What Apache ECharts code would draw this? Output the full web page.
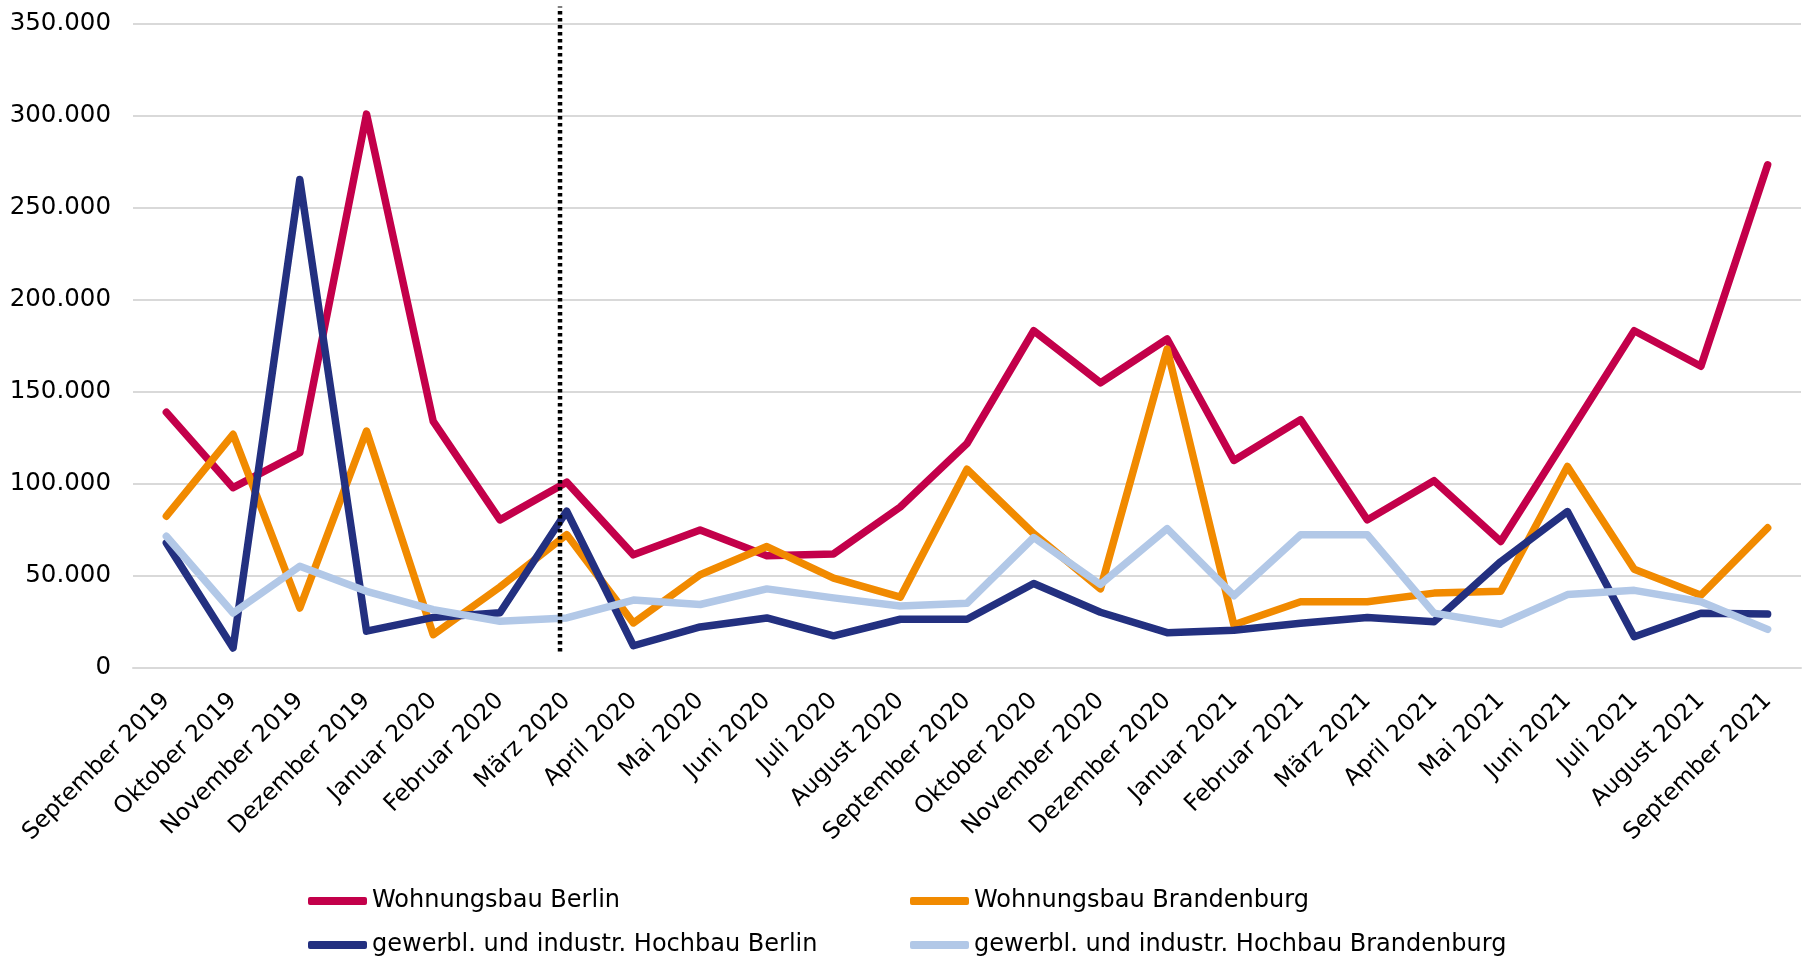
<!DOCTYPE html>
<html>
<head>
<meta charset="utf-8">
<script src="https://cdn.jsdelivr.net/npm/echarts@6/dist/echarts.min.js"></script>
<style>
html,body{margin:0;padding:0;background:#fff;}
#c{width:1808px;height:957px;}
</style>
</head>
<body>
<div id="c"></div>
<script>
const categories = ["September 2019","Oktober 2019","November 2019","Dezember 2019","Januar 2020","Februar 2020","März 2020","April 2020","Mai 2020","Juni 2020","Juli 2020","August 2020","September 2020","Oktober 2020","November 2020","Dezember 2020","Januar 2021","Februar 2021","März 2021","April 2021","Mai 2021","Juni 2021","Juli 2021","August 2021","September 2021"];
const seriesNames = ["Wohnungsbau Berlin","Wohnungsbau Brandenburg","gewerbl. und industr. Hochbau Berlin","gewerbl. und industr. Hochbau Brandenburg"];
const wohnBerlin = [139000,98000,117000,301000,134000,80500,101000,61500,75000,61000,62000,87500,122000,183300,155000,178800,112800,135000,80500,101800,68800,126000,183300,164000,273500];
const wohnBrandenburg = [82500,127000,32600,128800,18100,44000,72500,24500,50700,66000,48800,38500,108000,73000,43000,173300,23500,36000,36000,40700,41700,109500,53700,39600,76200];
const gewBerlin = [68000,10900,265500,20000,27500,30000,85200,12100,22300,27200,17500,26500,26500,45900,30300,19200,20500,24300,27500,25100,57800,85000,17000,29800,29300];
const gewBrandenburg = [71600,29900,55300,41700,31700,25400,27200,36900,34500,43000,38100,33700,35200,70900,45400,75700,39300,72400,72400,29800,23800,39900,42200,36000,21000];
const yTicks = {min:0, max:350000, interval:50000};
// reference line (just before März 2020): position on category index scale and its vertical extent
const refLineX = 5.9;
const refLineY = [9000, 359500];
const colors = ["#C3004A","#F18A00","#233080","#B2C8E7"];

function fmt(v){ return String(v).replace(/\B(?=(\d{3})+(?!\d))/g,'.'); }

const chart = echarts.init(document.getElementById('c'), null, {renderer:'canvas'});
const dataSets = [wohnBerlin, wohnBrandenburg, gewBerlin, gewBrandenburg];
const series = dataSets.map((d,i)=>({
  name: seriesNames[i], type:'line', data:d, xAxisIndex:0, yAxisIndex:0,
  symbol:'none', smooth:false,
  lineStyle:{color:colors[i], width:7.5, cap:'round', join:'round'},
  itemStyle:{color:colors[i]}, z: 2+i
}));
series.push({
  name:'ref', type:'line', xAxisIndex:1, yAxisIndex:0, clip:false, symbol:'none',
  data:[[refLineX, refLineY[0]],[refLineX, refLineY[1]]],
  lineStyle:{color:'#000', width:4.5, type:[3.5,3.5], cap:'butt'}, z:10, silent:true
});
const legendText = {fontFamily:'"DejaVu Sans",Verdana,sans-serif', fontSize:24, color:'#000'};
const legendPos = [[308,889],[910,889],[308,933],[910,933]];
const legends = seriesNames.map((n,i)=>({
  data:[n], left:legendPos[i][0], top:legendPos[i][1], padding:0,
  itemWidth:59, itemHeight:8, icon:'roundRect', textStyle:legendText, selectedMode:false
}));
chart.setOption({
  animation:false,
  backgroundColor:'#fff',
  grid:{left:133, right:7, top:24, bottom:289, containLabel:false},
  legend: legends,
  xAxis:[
    {type:'category', data:categories, boundaryGap:true,
     axisLine:{show:true, lineStyle:{color:'#d9d9d9', width:2}}, axisTick:{show:false},
     axisLabel:{rotate:45, interval:0, margin:29, color:'#000', fontSize:23.5, fontFamily:'"DejaVu Sans",Verdana,sans-serif'}},
    {type:'value', min:-0.5, max:categories.length-0.5, show:false}
  ],
  yAxis:{type:'value', min:yTicks.min, max:yTicks.max, interval:yTicks.interval,
    axisLine:{show:false}, axisTick:{show:false},
    splitLine:{lineStyle:{color:'#d9d9d9', width:2}},
    axisLabel:{formatter:fmt, margin:22, color:'#000', fontSize:24.5, fontFamily:'"DejaVu Sans",Verdana,sans-serif'}},
  series: series
});
</script>
</body>
</html>
